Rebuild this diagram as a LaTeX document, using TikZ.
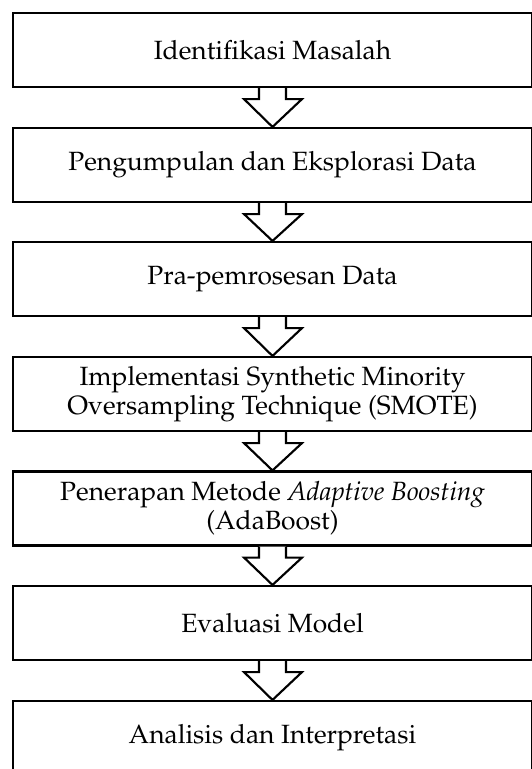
\documentclass[tikz,border=0pt]{standalone}
\usepackage[T1]{fontenc}
\usepackage{mathpazo}
\usetikzlibrary{calc}

\tikzset{
  stagebox/.style={draw, line width=1.6pt, fill=white, align=center,
    minimum width=389.25pt, minimum height=55.5pt, inner sep=0pt,
    font=\fontsize{19.8}{21.75}\selectfont},
  flowline/.style={line width=1.6pt, line join=miter},
}

% block arrow from the bottom of one stage to the top of the next
\newcommand{\stagearrow}[2]{%
  \fill[white] ($(#1.south)+(-13.5,0)$) -- ++(0,11) -- ++(-15,0)
    -- ($(#2.north)$) -- ($(#1.south)+(29.5,11)$) -- ++(-16,0)
    -- ($(#1.south)+(13.5,0)$) -- cycle;
  \draw[flowline] ($(#1.south)+(-13.5,0)$) -- ++(0,11) -- ++(-15,0)
    -- ($(#2.north)$) -- ($(#1.south)+(29.5,11)$) -- ++(-16,0)
    -- ($(#1.south)+(13.5,0)$);
}

\begin{document}
\begin{tikzpicture}[x=0.75pt, y=-0.75pt]
  \useasboundingbox (0,0) rectangle (532,769);
  \clip (0,0) rectangle (532,769);

  \node[stagebox] (s1) at (272.5,50)    {Identifikasi Masalah};
  \node[stagebox] (s2) at (272.5,165)   {Pengumpulan dan Eksplorasi Data};
  \node[stagebox] (s3) at (272.5,279)   {Pra-pemrosesan Data};
  \node[stagebox] (s4) at (272.5,394)   {Implementasi Synthetic Minority\\Oversampling Technique (SMOTE)};
  \node[stagebox] (s5) at (272.5,508.5) {Penerapan Metode \textit{Adaptive Boosting}\\(AdaBoost)};
  \node[stagebox] (s6) at (272.5,623)   {Evaluasi Model};
  \node[stagebox] (s7) at (272.5,738)   {Analisis dan Interpretasi};

  \stagearrow{s1}{s2}
  \stagearrow{s2}{s3}
  \stagearrow{s3}{s4}
  \stagearrow{s4}{s5}
  \stagearrow{s5}{s6}
  \stagearrow{s6}{s7}
\end{tikzpicture}
\end{document}
